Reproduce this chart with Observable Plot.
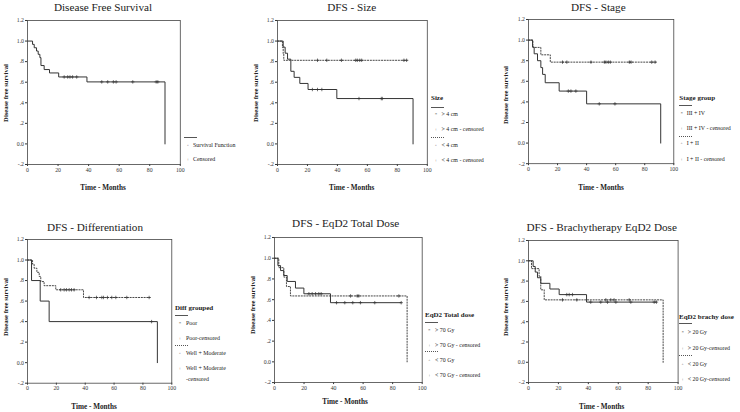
<!DOCTYPE html>
<html><head><meta charset="utf-8">
<script src="https://cdn.jsdelivr.net/npm/d3@7"></script>
<script src="https://cdn.jsdelivr.net/npm/@observablehq/plot@0.6"></script>
<style>
body{margin:0;background:#fff;}
#wrap{position:relative;width:740px;height:412px;overflow:hidden;background:#fff;font-family:"Liberation Serif","Times New Roman","DejaVu Serif",serif;color:#222;}
.abs{position:absolute;white-space:nowrap;}
.title{font-size:11.2px;transform:translate(-50%,-50%);}
.xlab{font-size:7.2px;font-weight:bold;transform:translate(-50%,-50%);}
.ylab{font-size:6.6px;font-weight:bold;transform:translate(-50%,-50%) rotate(-90deg);}
.lgt{font-size:7px;font-weight:bold;transform:translateY(-50%);}
.lgi{font-size:5.9px;transform:translateY(-50%);}
.mk{font-size:5px;color:#555;transform:translate(-50%,-50%);}
.ln{height:0;border-top:1px solid #555;width:13px;}
.lnd{height:0;border-top:1px dotted #555;width:13px;}
</style></head>
<body><div id="wrap"></div>
<script>
// ---- axes ----
const xTicks = [0, 20, 40, 60, 80, 100];
const yTicks = [-0.2, 0, 0.2, 0.4, 0.6, 0.8, 1.0, 1.2];
const yTickLabels = ["-.2", "0.0", ".2", ".4", ".6", ".8", "1.0", "1.2"];

// ---- Panel 1: Disease Free Survival (all patients) ----
const allTime = [0, 3.3, 4.4, 5.9, 7.0, 8.1, 8.8, 10.9, 14.4, 20.4, 38.9, 90, 90];
const allSurv = [1, 0.968, 0.935, 0.903, 0.871, 0.839, 0.762, 0.723, 0.690, 0.651, 0.603, 0.603, 0];
const allCens = [24, 26.3, 27.8, 29.5, 32.2, 48.6, 52.5, 56.2, 58, 68.9, 84.2, 85.3];

// ---- Panel 2: Size ----
const sizeBigTime = [0, 3.8, 5.1, 6.7, 8.9, 11.1, 14.9, 20.4, 39.6, 90.5, 90.5];
const sizeBigSurv = [1, 0.941, 0.882, 0.824, 0.706, 0.647, 0.588, 0.529, 0.441, 0.441, 0];
const sizeBigCens = [23.3, 26.7, 29.6, 54.4, 69.3, 70];
const sizeSmallTime = [0, 3.3, 3.8, 4.2, 86.5];
const sizeSmallSurv = [1, 0.938, 0.875, 0.813, 0.813];
const sizeSmallCens = [26.7, 32.9, 42.7, 52.2, 53.3, 54.9, 56.2, 84.4, 86.2];

// ---- Panel 3: Stage ----
const stageHighTime = [0, 2.8, 3.9, 6.2, 8.5, 9.7, 11.5, 21.1, 40, 91, 91];
const stageHighSurv = [1, 0.933, 0.867, 0.8, 0.733, 0.667, 0.586, 0.505, 0.381, 0.381, 0];
const stageHighCens = [27.4, 29.2, 32.6, 48.7, 59.5];
const stageLowTime = [0, 3.0, 8.5, 15, 88.3];
const stageLowSurv = [1, 0.929, 0.857, 0.786, 0.786];
const stageLowCens = [23.4, 26.4, 43, 52.2, 53.3, 54.9, 56.3, 69.4, 70.6, 84.8, 87.1];

// ---- Panel 4: Differentiation ----
const poorTime = [0, 2.8, 8.8, 15, 90, 90];
const poorSurv = [1, 0.8, 0.6, 0.4, 0.4, 0];
const poorCens = [86];
const wellTime = [0, 3.5, 4.6, 6.5, 8.1, 9.2, 11.5, 19.6, 38.8, 84.8];
const wellSurv = [1, 0.96, 0.92, 0.88, 0.84, 0.79, 0.75, 0.71, 0.635, 0.635];
const wellCens = [23, 25.4, 27, 28.9, 30.5, 32.3, 42.7, 47.8, 51.5, 52.7, 55.4, 58.4, 61.2, 68.8, 84.3];

// ---- Panel 5: EqD2 Total Dose ----
const totHiTime = [0, 2.3, 4.1, 6.3, 8.6, 14.2, 19.9, 37.9, 85.8];
const totHiSurv = [1, 0.929, 0.881, 0.833, 0.776, 0.712, 0.657, 0.571, 0.571];
const totHiCens = [23.3, 25.5, 27.8, 30, 31.6, 42, 47.6, 53, 58.2, 67.9, 85.8];
const totLoTime = [0, 2.9, 6.3, 8.1, 10.8, 89.8, 89.8];
const totLoSurv = [1, 0.909, 0.818, 0.727, 0.636, 0.636, 0];
const totLoCens = [51.5, 56, 57.1, 84.2];

// ---- Panel 6: Brachytherapy EqD2 Dose ----
const brHiTime = [0, 3.1, 4.5, 6.0, 8.2, 14.3, 20.5, 38.8, 85.5];
const brHiSurv = [1, 0.944, 0.889, 0.833, 0.778, 0.722, 0.667, 0.593, 0.593];
const brHiCens = [25.6, 27.2, 29.4, 41.6, 48.3, 52.8, 58.4, 68.4, 84, 85.5];
const brLoTime = [0, 2.0, 7.1, 8.2, 10.5, 90, 90];
const brLoSurv = [1, 0.923, 0.846, 0.714, 0.615, 0.615, 0];
const brLoCens = [22.7, 32.3, 51.7, 55, 57.2, 67.3];

// ---- text ----
const titles = ["Disease Free Survival", "DFS - Size", "DFS - Stage", "DFS - Differentiation", "DFS - EqD2 Total Dose", "DFS - Brachytherapy EqD2 Dose"];
const xTitle = "Time - Months";
const yTitle = "Disease free survival";

// ---- build ----
function survAt(times, surv, t) {
  let v = surv[0];
  for (let i = 0; i < times.length; i++) { if (times[i] <= t && surv[i] > 0) v = surv[i]; }
  return v;
}
function series(times, surv) { return times.map((t, i) => ({t, s: surv[i]})); }
function cens(times, surv, c) { return c.map(t => ({t, s: survAt(times, surv, t)})); }

const wrap = document.getElementById("wrap");
function addDiv(cls, x, y, txt) {
  const d = document.createElement("div");
  d.className = "abs " + cls; d.style.left = x + "px"; d.style.top = y + "px";
  if (txt != null) d.textContent = txt;
  wrap.appendChild(d); return d;
}

function panel(cfg) {
  const {left, right, top, bottom} = cfg.frame;
  const sL = left - 22, sT = top - 4, sR = right + 4, sB = bottom + 10;
  const marks = [Plot.frame({stroke: "#444", strokeWidth: 0.8})];
  for (const g of cfg.groups) {
    marks.push(Plot.line(series(g.time, g.surv), {x: "t", y: "s", curve: "step-after", stroke: "#333", strokeWidth: g.dash ? 0.9 : 1, strokeDasharray: g.dash ? "1.2,1.6" : null}));
    marks.push(Plot.dot(cens(g.time, g.surv, g.cens), {x: "t", y: "s", symbol: "plus", r: 1.2, stroke: "#333", strokeWidth: 0.7}));
  }
  const svg = Plot.plot({
    width: sR - sL, height: sB - sT,
    marginLeft: left - sL, marginRight: sR - right, marginTop: top - sT, marginBottom: sB - bottom,
    x: {domain: [0, 100], ticks: xTicks, tickSize: 2, tickPadding: 1, label: null, tickFormat: d => String(d)},
    y: {domain: [-0.2, 1.2], ticks: yTicks, tickSize: 2, tickPadding: 1.5, label: null, tickFormat: d => yTickLabels[yTicks.findIndex(v => Math.abs(v - d) < 1e-9)]},
    style: {fontFamily: "'Liberation Serif','Times New Roman',serif", fontSize: "5.8px", color: "#333", background: "transparent", overflow: "visible"},
    marks
  });
  const holder = document.createElement("div");
  holder.className = "abs"; holder.style.left = sL + "px"; holder.style.top = sT + "px";
  holder.appendChild(svg); wrap.appendChild(holder);
  addDiv("title", cfg.title[0], cfg.title[1], cfg.title[2]);
  addDiv("xlab", cfg.xl[0], cfg.xl[1], xTitle);
  addDiv("ylab", cfg.yl[0], cfg.yl[1], yTitle);
  const L = cfg.legend;
  if (L.head) addDiv("lgt", L.x, L.head, L.headText);
  addDiv("ln", L.x, L.lines[0]);
  if (L.lines[1] != null) addDiv("lnd", L.x, L.lines[1]);
  L.items.forEach(([y, sym, txt]) => {
    if (sym) addDiv("mk", L.mx, y, sym);
    addDiv("lgi", L.tx, y, txt);
  });
}

const panels = [
  {frame: {left: 26.7, right: 179.5, top: 19.5, bottom: 163.5}, title: [103, 6.7, titles[0]], xl: [103, 188.3], yl: [5, 93],
   groups: [{time: allTime, surv: allSurv, cens: allCens}],
   legend: {x: 184, lines: [136.7], mx: 188, tx: 193, items: [[144.7, "◦", "Survival Function"], [159.3, "+", "Censored"]]}},
  {frame: {left: 276.7, right: 426.5, top: 19.5, bottom: 163.5}, title: [351.7, 7, titles[1]], xl: [351.7, 188.3], yl: [255, 93],
   groups: [{time: sizeBigTime, surv: sizeBigSurv, cens: sizeBigCens}, {time: sizeSmallTime, surv: sizeSmallSurv, cens: sizeSmallCens, dash: true}],
   legend: {x: 431, head: 98.3, headText: "Size", lines: [106.7, 136.7], mx: 436, tx: 441.5,
     items: [[114, "*", "> 4 cm"], [129, "+", "> 4 cm - censored"], [145, "◦", "< 4 cm"], [160, "+", "< 4 cm - censored"]]}},
  {frame: {left: 527.7, right: 673, top: 19.3, bottom: 163.5}, title: [598.3, 7, titles[2]], xl: [601, 188.3], yl: [505, 95],
   groups: [{time: stageHighTime, surv: stageHighSurv, cens: stageHighCens}, {time: stageLowTime, surv: stageLowSurv, cens: stageLowCens, dash: true}],
   legend: {x: 679.3, head: 97.7, headText: "Stage group", lines: [105, 136], mx: 681.7, tx: 686.7,
     items: [[113.3, "*", "III + IV"], [128.3, "+", "III + IV - censored"], [143.3, "◦", "I + II"], [159.3, "+", "I + II - censored"]]}},
  {frame: {left: 26.7, right: 171, top: 238.8, bottom: 382.5}, title: [95, 226.7, titles[3]], xl: [94, 406.7], yl: [5, 306.7],
   groups: [{time: poorTime, surv: poorSurv, cens: poorCens}, {time: wellTime, surv: wellSurv, cens: wellCens, dash: true}],
   legend: {x: 175, head: 307.7, headText: "Diff grouped", lines: [315, 345], mx: 180, tx: 186,
     items: [[323.3, "*", "Poor"], [338, "+", "Poor-censored"], [353.3, "◦", "Well + Moderate"], [368.3, "+", "Well + Moderate"], [378.7, null, "-censored"]]}},
  {frame: {left: 274, right: 421.7, top: 236.9, bottom: 382}, title: [345.7, 223.3, titles[4]], xl: [345, 401.7], yl: [252, 305],
   groups: [{time: totHiTime, surv: totHiSurv, cens: totHiCens}, {time: totLoTime, surv: totLoSurv, cens: totLoCens, dash: true}],
   legend: {x: 425, head: 315, headText: "EqD2 Total dose", lines: [322, 351], mx: 429.3, tx: 435,
     items: [[330, "*", "> 70 Gy"], [345, "+", "> 70 Gy - censored"], [360, "◦", "< 70 Gy"], [375, "+", "< 70 Gy - censored"]]}},
  {frame: {left: 527.7, right: 677.3, top: 240.4, bottom: 382.5}, title: [601.7, 226.7, titles[5]], xl: [601.7, 406.7], yl: [505, 306.7],
   groups: [{time: brHiTime, surv: brHiSurv, cens: brHiCens}, {time: brLoTime, surv: brLoSurv, cens: brLoCens, dash: true}],
   legend: {x: 679, head: 316.7, headText: "EqD2 brachy dose", lines: [323.3, 355], mx: 682.7, tx: 687.7,
     items: [[332, "*", "> 20 Gy"], [348, "+", "> 20 Gy-censored"], [364, "◦", "< 20 Gy"], [379.3, "+", "< 20 Gy-censored"]]}}
];
panels.forEach(panel);
</script></body></html>
